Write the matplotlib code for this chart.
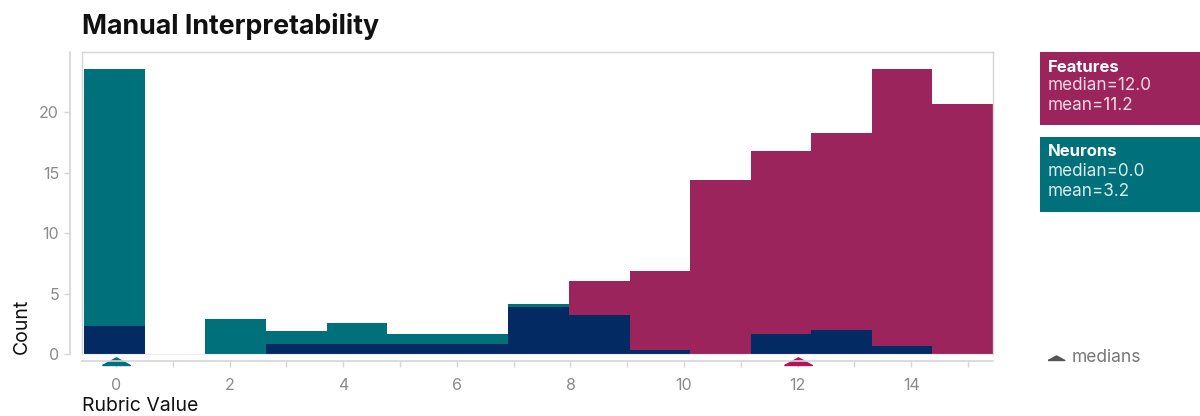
import numpy as np
import matplotlib
matplotlib.use("Agg")
import matplotlib.pyplot as plt
from matplotlib.transforms import blended_transform_factory
from matplotlib.patches import Rectangle
from matplotlib.lines import Line2D

plt.rcParams['font.family'] = ['Inter', 'DejaVu Sans']

# ---- data ----
bin_edges = np.linspace(-0.56, 15.44, 16)
features_counts = [2.3, 0, 0, 0.8, 0.8, 0.8, 0.8, 3.9, 6.05, 6.9, 14.4, 16.8, 18.3, 23.6, 20.7]
neurons_counts = [23.6, 0, 2.9, 1.93, 2.6, 1.63, 1.63, 4.15, 3.24, 0.33, 0, 1.63, 1.97, 0.69, 0]
features_median, features_mean = 12.0, 11.2
neurons_median, neurons_mean = 0.0, 3.2
x_ticks = list(range(0, 16))
x_tick_labels = [str(v) if v % 2 == 0 else "" for v in x_ticks]
y_ticks = [0, 5, 10, 15, 20]

maroon = "#9A245B"
teal = "#00707A"
navy = "#032A62"
maroon_marker = "#B0145F"

fig = plt.figure(figsize=(12, 4.16), dpi=100)
ax = fig.add_axes([82/1200, 1-354/416, (993-82)/1200, (354-52)/416])

f = np.array(features_counts)
n = np.array(neurons_counts)
ax.stairs(f, bin_edges, fill=True, color=maroon, lw=0)
ax.stairs(n, bin_edges, fill=True, color=teal, lw=0)
ax.stairs(np.minimum(f, n), bin_edges, fill=True, color=navy, lw=0)

ax.set_xlim(-0.6, 15.44)
ax.set_ylim(0, 25)

grey = "#d6d6d6"
for s in ['top', 'right']:
    ax.spines[s].set_color(grey)
    ax.spines[s].set_linewidth(1.0)
ax.spines['left'].set_position(('outward', 9))
ax.spines['bottom'].set_position(('outward', 5))
ax.spines['left'].set_color(grey)
ax.spines['bottom'].set_color(grey)
ax.spines['left'].set_linewidth(1.2)
ax.spines['bottom'].set_linewidth(1.2)
ax.add_line(Line2D([0, 0], [0, 1], transform=ax.transAxes, color=grey, lw=1.0, clip_on=False))
ax.add_line(Line2D([0, 1], [0, 0], transform=ax.transAxes, color="#ececec", lw=0.8, clip_on=False))

ax.set_xticks(x_ticks)
ax.set_xticklabels(x_tick_labels)
ax.set_yticks(y_ticks)
ax.tick_params(axis='both', colors=grey, labelcolor="#8a8a8a", labelsize=11.5, length=4, width=1)
ax.tick_params(axis='x', pad=8)

ax.set_title("Manual Interpretability", loc='left', fontsize=19.3, fontweight='bold', pad=13, color="#111111")
fig.text(82/1200, 1-406/416, "Rubric Value", fontsize=14, color="#111111", ha='left', va='center')
fig.text(22/1200, 1-354/416, "Count", fontsize=14, color="#111111", rotation=90, ha='center', va='bottom')

# median markers
tri = [(-1, 0), (1, 0), (0, 0.55), (-1, 0)]
btrans = blended_transform_factory(ax.transData, ax.transAxes)
ax.plot([neurons_median], [-0.035], marker=tri, markersize=20, color=teal, transform=btrans, clip_on=False, lw=0)
ax.plot([features_median], [-0.035], marker=tri, markersize=20, color=maroon_marker, transform=btrans, clip_on=False, lw=0)

# legend boxes
def box(y_top, y_bot, color, title, l1, l2, sub):
    fig.patches.append(Rectangle((1040/1200, 1-y_bot/416), 160/1200, (y_bot-y_top)/416,
                                 transform=fig.transFigure, color=color, lw=0))
    fig.text(1048/1200, 1-(y_top+15)/416, title, color="white", fontsize=12, fontweight='bold', va='center')
    fig.text(1048/1200, 1-(y_top+34)/416, l1, color=sub, fontsize=12.3, va='center')
    fig.text(1048/1200, 1-(y_top+54)/416, l2, color=sub, fontsize=12.3, va='center')

box(52, 125, maroon, "Features", f"median={features_median:.1f}", f"mean={features_mean:.1f}", "#f1dbe6")
box(137, 212, teal, "Neurons", f"median={neurons_median:.1f}", f"mean={neurons_mean:.1f}", "#dcecee")

fig.lines.append(Line2D([1056/1200], [1-360/416], marker=tri, markersize=12, color="#555555",
                        transform=fig.transFigure, lw=0))
fig.text(1072/1200, 1-358/416, "medians", color="#777777", fontsize=12.5, va='center')

fig.savefig("out.png", dpi=100)
